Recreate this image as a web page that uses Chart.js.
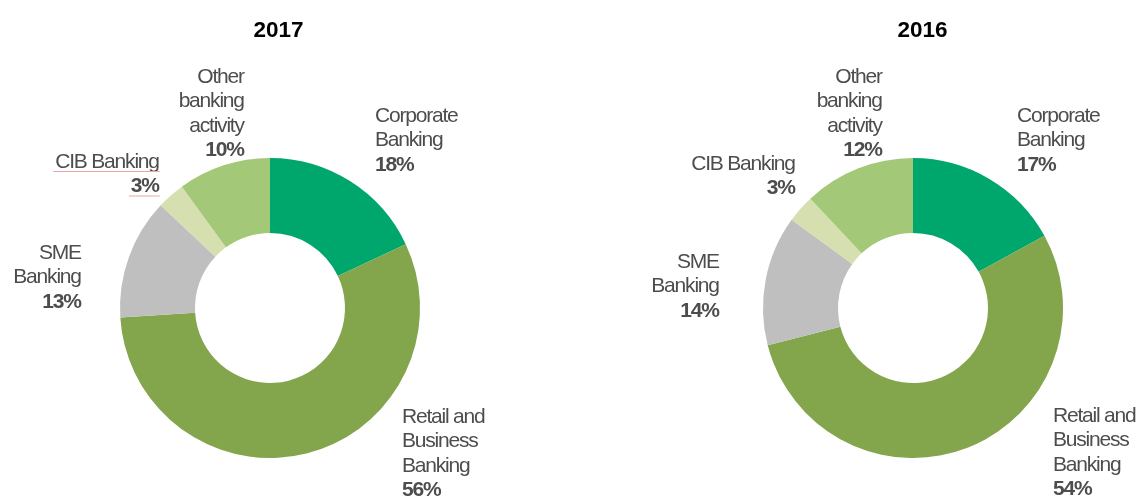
<!DOCTYPE html>
<html>
<head>
<meta charset="utf-8">
<script src="https://cdn.jsdelivr.net/npm/chart.js@4.4.1/dist/chart.umd.min.js"></script>
<style>
  html, body { margin: 0; padding: 0; background: #fff; }
  #wrap { width: 1138px; height: 501px; display: flex; }
  .box { width: 569px; height: 501px; position: relative; }
</style>
</head>
<body>
<div id="wrap">
  <div class="box"><canvas id="c2017"></canvas></div>
  <div class="box"><canvas id="c2016"></canvas></div>
</div>
<script>
// data
const categorias = [
  ["Corporate", "Banking"],
  ["Retail and", "Business", "Banking"],
  ["SME", "Banking"],
  ["CIB Banking"],
  ["Other", "banking", "activity"],
];
const valores2017 = [18, 56, 13, 3, 10];
const valores2016 = [17, 54, 14, 3, 12];
const cores = ["#00A76D", "#83A54B", "#BFBFBF", "#D5DFAF", "#A3C978"];

// posição dos rótulos (relativa ao centro do anel), alinhamento
const rotulos2017 = [
  { dx: 105, dy: -192, align: "left" },
  { dx: 132, dy: 109, align: "left" },
  { dx: -188, dy: -55, align: "right" },
  { dx: -110, dy: -146, align: "right", sublinhado: true },
  { dx: -25, dy: -231, align: "right" },
];
const rotulos2016 = [
  { dx: 104, dy: -192, align: "left" },
  { dx: 140, dy: 108, align: "left" },
  { dx: -193, dy: -46, align: "right" },
  { dx: -117, dy: -144, align: "right" },
  { dx: -30, dy: -231, align: "right" },
];

const FONTE = "'Liberation Sans', Arial, sans-serif";

const pluginRotulos = {
  id: "rotulos",
  afterDraw(chart, args, opts) {
    const ctx = chart.ctx;
    const arc = chart.getDatasetMeta(0).data[0];
    const cx = arc.x, cy = arc.y;
    const vals = chart.data.datasets[0].data;
    ctx.save();
    ctx.textBaseline = "middle";
    // título
    ctx.fillStyle = "#000";
    ctx.textAlign = "center";
    ctx.font = "bold 22.5px " + FONTE;
    ctx.fillText(opts.titulo, cx + opts.tituloDx, 31);
    // rótulos das fatias
    ctx.letterSpacing = "-1.2px";
    opts.pos.forEach((p, i) => {
      const linhas = [...chart.data.labels[i]];
      ctx.textAlign = p.align;
      // letterSpacing negativo empurra o último glifo para fora no alinhamento à direita
      const x = cx + p.dx - (p.align === "right" ? 1.2 : 0);
      let y = cy + p.dy;
      linhas.push(vals[i] + "%");
      linhas.forEach((l, k) => {
        const negrito = k === linhas.length - 1;
        ctx.font = (negrito ? "bold " : "") + "21px " + FONTE;
        ctx.fillStyle = "#4D4D50";
        ctx.fillText(l, x, y);
        if (p.sublinhado) {
          // traço de correção ortográfica que aparece na imagem original
          const w = ctx.measureText(l).width;
          const x0 = p.align === "right" ? x - w : x;
          ctx.strokeStyle = "#F2A3A3";
          ctx.lineWidth = 1;
          ctx.beginPath();
          ctx.moveTo(x0 - 2, y + 9.5);
          ctx.lineTo(x0 + w + 1, y + 9.5);
          ctx.stroke();
        }
        y += 24.5;
      });
    });
    ctx.restore();
  },
};

function anel(id, valores, pos, titulo, padding, tituloDx) {
  return new Chart(document.getElementById(id), {
    type: "doughnut",
    data: {
      labels: categorias,
      datasets: [{ data: valores, backgroundColor: cores, borderWidth: 0 }],
    },
    options: {
      responsive: true,
      maintainAspectRatio: false,
      animation: false,
      cutout: "50%",
      layout: { padding },
      plugins: {
        legend: { display: false },
        tooltip: { enabled: false },
        rotulos: { pos, titulo, tituloDx },
      },
    },
    plugins: [pluginRotulos],
  });
}

anel("c2017", valores2017, rotulos2017, "2017", { top: 158, bottom: 43, left: 120, right: 149 }, 8.5);
anel("c2016", valores2016, rotulos2016, "2016", { top: 158, bottom: 43, left: 194, right: 75 }, 9.5);
</script>
</body>
</html>
